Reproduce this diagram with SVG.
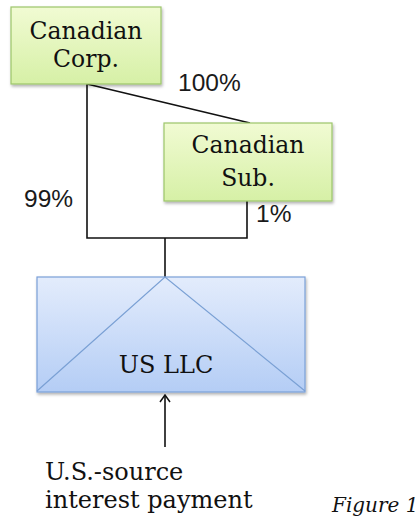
<svg xmlns="http://www.w3.org/2000/svg" width="420" height="525" viewBox="0 0 420 525">
<style>
.serif{font-family:"DejaVu Serif","Liberation Serif",serif;fill:#111;}
.sans{font-family:"Liberation Sans","DejaVu Sans",sans-serif;fill:#1a1a1a;font-size:24.5px;}
.conn{stroke:#111;stroke-width:1.6;fill:none;}
.gbox{fill:url(#g);stroke:#9cc56a;stroke-width:1.2;filter:url(#sh);}
</style>
<defs>
<linearGradient id="g" x1="0" y1="0" x2="0" y2="1">
<stop offset="0" stop-color="#f1fbd3"/>
<stop offset="1" stop-color="#d6f0a6"/>
</linearGradient>
<linearGradient id="b" x1="0" y1="0" x2="0" y2="1">
<stop offset="0" stop-color="#e3ecfc"/>
<stop offset="1" stop-color="#b4cdf5"/>
</linearGradient>
<filter id="sh" x="-10%" y="-10%" width="125%" height="130%">
<feDropShadow dx="1" dy="2" stdDeviation="1.5" flood-color="#000" flood-opacity="0.3"/>
</filter>
<marker id="arr" viewBox="0 0 12 12" refX="11" refY="6" markerWidth="12" markerHeight="12" markerUnits="userSpaceOnUse" orient="auto">
<path d="M4 1 L11 6 L4 11" fill="none" stroke="#111" stroke-width="1.5"/>
</marker>
</defs>
<g id="connectors">
<polyline class="conn" points="87,84 87,238 247,238 247,201"/>
<line class="conn" x1="87" y1="84" x2="250" y2="123"/>
<line class="conn" x1="165" y1="238" x2="165" y2="277"/>
<line class="conn" x1="165" y1="447" x2="165" y2="395" marker-end="url(#arr)"/>
</g>
<g id="canadian-corp">
<rect class="gbox" x="11" y="7" width="150" height="77"/>
<text class="serif" font-size="23.5" text-anchor="middle" x="86" y="39">Canadian</text>
<text class="serif" font-size="23.5" text-anchor="middle" x="86" y="67">Corp.</text>
</g>
<g id="canadian-sub">
<rect class="gbox" x="164" y="123" width="168" height="78"/>
<text class="serif" font-size="23.5" text-anchor="middle" x="248" y="153">Canadian</text>
<text class="serif" font-size="23.5" text-anchor="middle" x="248" y="186">Sub.</text>
</g>
<g id="us-llc">
<rect x="37" y="277" width="268" height="115" fill="url(#b)" stroke="#7ba0d8" stroke-width="1.2" filter="url(#sh)"/>
<polyline points="37,391 165,277 305,391" fill="none" stroke="#7aa0d4" stroke-width="1.2"/>
<text class="serif" font-size="24" text-anchor="middle" x="166" y="373">US LLC</text>
</g>
<g id="labels">
<text class="sans" x="178" y="91">100%</text>
<text class="sans" x="24" y="207">99%</text>
<text class="sans" x="256" y="222">1%</text>
<text class="serif" font-size="24" x="45" y="480">U.S.-source</text>
<text class="serif" font-size="24" x="45" y="508">interest payment</text>
<text class="serif" font-size="20" font-style="italic" x="332" y="512">Figure 1</text>
</g>
</svg>
